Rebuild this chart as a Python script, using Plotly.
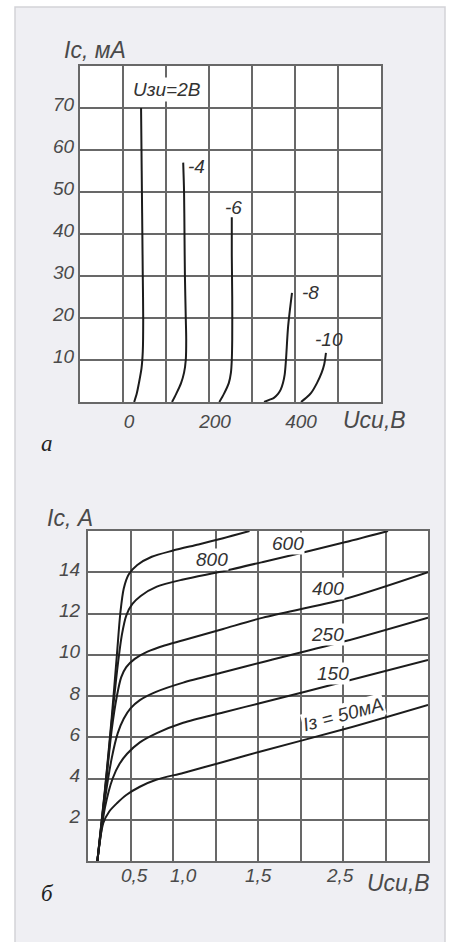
import plotly.graph_objects as go

W, H = 450, 942

# ---------------- Chart "а": Iс (мА) vs Uси (В) for several Uзи ----------------
a_curve_names = ["Uзи=2В", "-4", "-6", "-8", "-10"]
a_u_2 = [26, 32, 37, 43, 46, 47, 46, 45, 44, 43, 42]
a_i_2 = [0, 2, 4.5, 8, 12, 20, 30, 40, 50, 60, 70]
a_u_4 = [114, 124, 135, 142, 146, 147, 146, 144, 143, 142, 140]
a_i_4 = [0, 2, 4.5, 7, 10, 15, 20, 30, 40, 50, 57]
a_u_6 = [224, 235, 246, 251, 253, 254, 254, 253, 253]
a_i_6 = [0, 2, 4.5, 7, 10, 15, 25, 35, 44]
a_u_8 = [328, 340, 351, 361, 367, 372, 376, 379, 384, 393]
a_i_8 = [0, 0.5, 1, 2, 3, 4.5, 6.5, 10, 18, 26]
a_u_10 = [414, 426, 437, 451, 462, 468, 472]
a_i_10 = [0, 1, 2.1, 4.5, 7, 9, 11.7]
a_label_u = [102, 172, 256, 437, 479]
a_label_i = [74.5, 56, 46.2, 26, 15]
a_x_tickvals = [0, 200, 400]
a_x_ticktext = ["0", "200", "400"]
a_y_tickvals = [10, 20, 30, 40, 50, 60, 70]
a_y_ticktext = ["10", "20", "30", "40", "50", "60", "70"]

# ---------------- Chart "б": Iс (А) vs Uси (В) for several Iз ----------------
b_curve_names = ["800", "600", "400", "250", "150", "Iз = 50мА"]
b_u_800 = [0.11, 0.2, 0.28, 0.34, 0.38, 0.42, 0.48, 0.58, 0.75, 1.0, 1.3, 1.59, 1.9]
b_i_800 = [0, 3.5, 7.0, 10.0, 12.0, 13.2, 13.9, 14.35, 14.75, 15.05, 15.35, 15.65, 16.0]
b_u_600 = [0.11, 0.2, 0.28, 0.35, 0.40, 0.45, 0.52, 0.62, 0.81, 1.12, 1.59, 2.06, 3.02, 3.53]
b_i_600 = [0, 3.4, 6.8, 9.5, 11.0, 11.9, 12.45, 12.85, 13.3, 13.65, 14.05, 14.5, 15.45, 16.0]
b_u_400 = [0.11, 0.2, 0.28, 0.34, 0.39, 0.45, 0.55, 0.7, 0.9, 1.12, 1.59, 2.06, 3.02, 4.0]
b_i_400 = [0, 3.3, 6.4, 8.0, 8.9, 9.4, 9.8, 10.15, 10.45, 10.7, 11.25, 11.8, 12.7, 14.0]
b_u_250 = [0.11, 0.2, 0.28, 0.35, 0.42, 0.5, 0.61, 0.8, 1.12, 1.59, 2.06, 3.02, 4.0]
b_i_250 = [0, 3.0, 5.0, 6.2, 6.9, 7.4, 7.8, 8.2, 8.65, 9.15, 9.65, 10.65, 11.8]
b_u_150 = [0.11, 0.2, 0.29, 0.37, 0.46, 0.61, 0.81, 1.12, 1.59, 2.02, 3.02, 4.0]
b_i_150 = [0, 2.6, 4.0, 4.7, 5.2, 5.75, 6.2, 6.7, 7.2, 7.65, 8.7, 9.75]
b_u_50 = [0.11, 0.18, 0.25, 0.34, 0.45, 0.61, 0.81, 1.12, 1.59, 2.02, 3.02, 4.0]
b_i_50 = [0, 1.84, 2.4, 2.8, 3.2, 3.6, 3.95, 4.27, 4.8, 5.3, 6.4, 7.57]
b_label_u = [1.46, 2.35, 2.82, 2.82, 2.88, 3.0]
b_label_i = [14.64, 15.4, 13.2, 10.96, 9.1, 7.08]
b_label_angle = [0, 0, 0, 0, 0, -15]
b_x_label_at = [0.55, 1.12, 2.0, 2.96]
b_x_ticktext = ["0,5", "1,0", "1,5", "2,5"]
b_y_tickvals = [2, 4, 6, 8, 10, 12, 14]
b_y_ticktext = ["2", "4", "6", "8", "10", "12", "14"]

# ---------------- styling ----------------
PANEL = "#efeff3"
GRID = "#686868"
CURVE = "#1c1c1c"
TXT = "#4a4a4a"
FONT = "Liberation Sans"


def px(x):
    return x / W


def py(y):
    return 1 - y / H


fig = go.Figure()

a_series = [(a_u_2, a_i_2), (a_u_4, a_i_4), (a_u_6, a_i_6), (a_u_8, a_i_8), (a_u_10, a_i_10)]
for u, i in a_series:
    fig.add_trace(go.Scatter(x=u, y=i, mode="lines", xaxis="x", yaxis="y",
                             line=dict(color=CURVE, width=2, shape="spline", smoothing=0.8),
                             showlegend=False, hoverinfo="skip"))

b_series = [(b_u_800, b_i_800), (b_u_600, b_i_600), (b_u_400, b_i_400),
            (b_u_250, b_i_250), (b_u_150, b_i_150), (b_u_50, b_i_50)]
for u, i in b_series:
    fig.add_trace(go.Scatter(x=u, y=i, mode="lines", xaxis="x2", yaxis="y2",
                             line=dict(color=CURVE, width=2, shape="spline", smoothing=0.8),
                             showlegend=False, hoverinfo="skip"))

tickfont = dict(family=FONT, size=19, color=TXT, style="italic")
common = dict(showgrid=True, gridcolor=GRID, gridwidth=1.6, showline=True, mirror=True,
              linecolor=GRID, linewidth=2, ticks="", zeroline=False, fixedrange=True,
              tickfont=tickfont)

a_grid_x = list(range(-100, 601, 100))
a_grid_text = [a_x_ticktext[a_x_tickvals.index(v)] if v in a_x_tickvals else "" for v in a_grid_x]

label_font = dict(family=FONT, size=19, color="#333333", style="italic")
annotations = []
for name, u, i in zip(a_curve_names, a_label_u, a_label_i):
    annotations.append(dict(x=u, y=i, xref="x", yref="y", text=name, showarrow=False,
                            bgcolor="white" if name.startswith("U") else "rgba(0,0,0,0)",
                            font=label_font, xanchor="center", yanchor="middle"))
for name, u, i, ang in zip(b_curve_names, b_label_u, b_label_i, b_label_angle):
    annotations.append(dict(x=u, y=i, xref="x2", yref="y2", text=name, showarrow=False,
                            bgcolor="white", textangle=ang, borderpad=0,
                            font=label_font, xanchor="center", yanchor="middle"))
for pos, txt in zip(b_x_label_at, b_x_ticktext):
    annotations.append(dict(x=pos, y=py(875), xref="x2", yref="paper", text=txt,
                            showarrow=False, font=tickfont, xanchor="center", yanchor="middle"))

title_font = dict(family=FONT, size=23, color=TXT, style="italic")
annotations += [
    dict(x=px(62), y=py(50), xref="paper", yref="paper", text="Iс, мА", showarrow=False,
         font=title_font, xanchor="left", yanchor="middle"),
    dict(x=px(341), y=py(420), xref="paper", yref="paper", text="Uси,В", showarrow=False,
         font=title_font, xanchor="left", yanchor="middle"),
    dict(x=px(45), y=py(518), xref="paper", yref="paper", text="Iс, А", showarrow=False,
         font=title_font, xanchor="left", yanchor="middle"),
    dict(x=px(365), y=py(883), xref="paper", yref="paper", text="Uси,В", showarrow=False,
         font=title_font, xanchor="left", yanchor="middle"),
    dict(x=px(47), y=py(443), xref="paper", yref="paper", text="а", showarrow=False,
         font=dict(family="Liberation Serif", size=23, color="#222222", style="italic"),
         xanchor="center", yanchor="middle"),
    dict(x=px(47), y=py(893), xref="paper", yref="paper", text="б", showarrow=False,
         font=dict(family="Liberation Serif", size=23, color="#222222", style="italic"),
         xanchor="center", yanchor="middle"),
]

shapes = [
    dict(type="rect", xref="paper", yref="paper", x0=0, x1=px(15), y0=0, y1=1,
         fillcolor="white", line=dict(width=0), layer="below"),
    dict(type="rect", xref="paper", yref="paper", x0=px(445), x1=1, y0=0, y1=1,
         fillcolor="white", line=dict(width=0), layer="below"),
    dict(type="rect", xref="paper", yref="paper", x0=0, x1=1, y0=py(7), y1=1,
         fillcolor="white", line=dict(width=0), layer="below"),
    dict(type="rect", xref="paper", yref="paper", x0=px(15), x1=px(445), y0=py(960), y1=py(7),
         fillcolor="rgba(0,0,0,0)", line=dict(width=1.5, color="#d3d3d8"), layer="below"),
]

fig.update_layout(
    width=W, height=H, margin=dict(l=0, r=0, t=0, b=0),
    paper_bgcolor=PANEL, plot_bgcolor="white",
    xaxis=dict(domain=[px(80), px(381)], range=[-100, 600], anchor="y",
               tickvals=a_grid_x, ticktext=a_grid_text, ticklabelshift=6,
               ticklabelstandoff=1, **common),
    yaxis=dict(domain=[py(402), py(66)], range=[0, 80], anchor="x",
               tickvals=a_y_tickvals, ticktext=a_y_ticktext, ticklabelshift=-4,
               ticklabelstandoff=0, **common),
    xaxis2=dict(domain=[px(88), px(428)], range=[0, 4], anchor="y2",
                tick0=0, dtick=0.5, showticklabels=False, **common),
    yaxis2=dict(domain=[py(861), py(531)], range=[0, 16], anchor="x2",
                tickvals=b_y_tickvals, ticktext=b_y_ticktext, ticklabelshift=-3,
                ticklabelstandoff=2, **common),
    annotations=annotations,
    shapes=shapes,
)

fig.write_html("out.html")
